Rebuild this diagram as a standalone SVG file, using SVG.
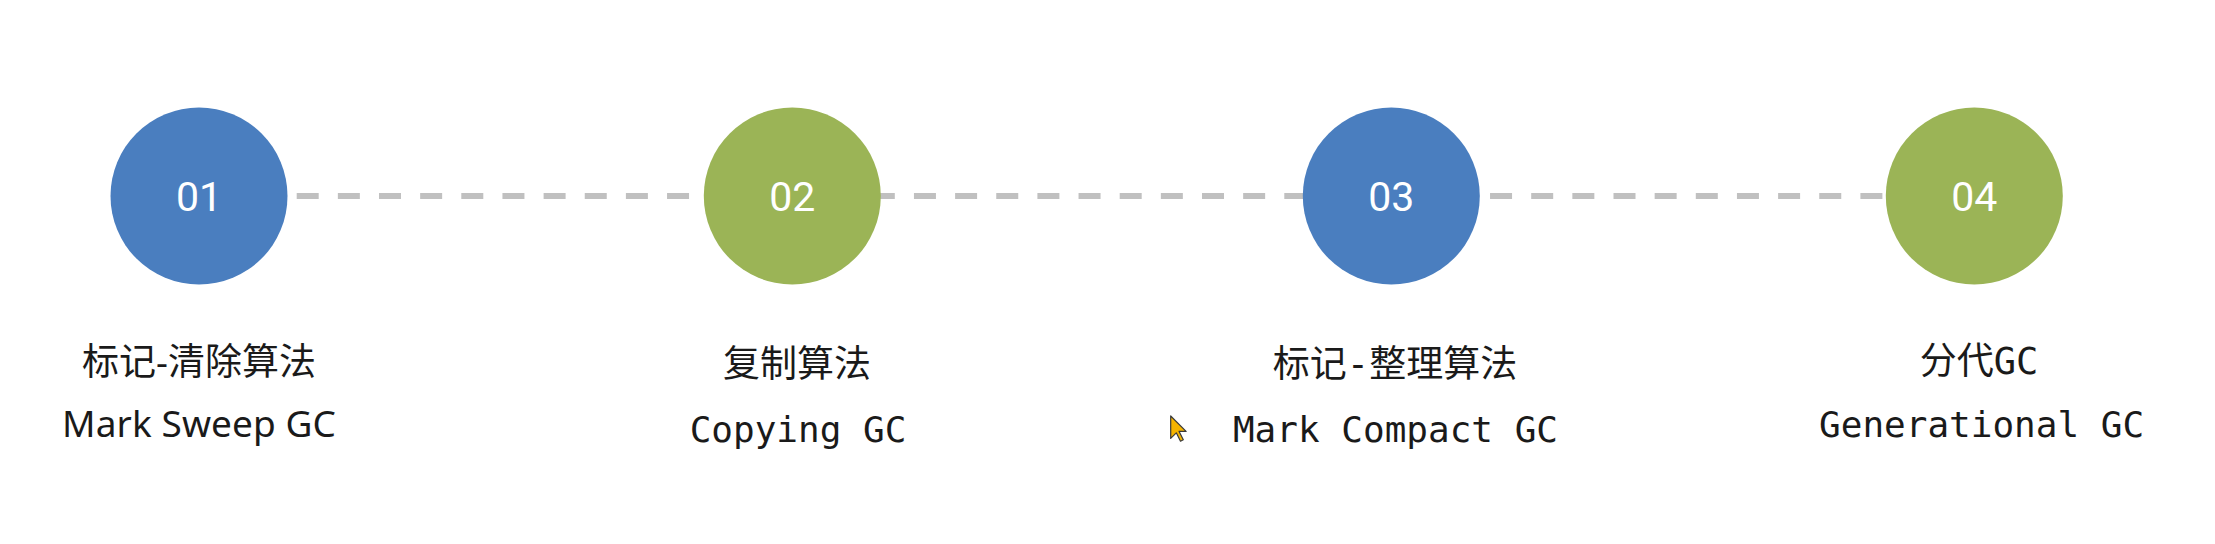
<svg xmlns="http://www.w3.org/2000/svg" width="2215" height="544" viewBox="0 0 2215 544">
  <style>
    .blue { fill: #4A7EBF; }
    .green { fill: #9BB456; }
    .num { font-family: Roboto, "Liberation Sans", sans-serif; font-size: 41px; fill: #FFFFFF; text-anchor: middle; }
    .cn { font-family: "Noto Sans", "Noto Sans CJK SC", sans-serif; font-size: 37px; fill: #1A1A1A; text-anchor: middle; }
    .cnm { font-family: "DejaVu Sans Mono", "Noto Sans CJK SC", monospace; font-size: 37px; fill: #1A1A1A; text-anchor: middle; }
    .en { font-family: "Noto Sans", "Liberation Sans", sans-serif; font-size: 37px; fill: #1A1A1A; text-anchor: middle; }
    .mono { font-family: "DejaVu Sans Mono", "Liberation Mono", monospace; font-size: 36px; fill: #1A1A1A; text-anchor: middle; }
  </style>
  <rect width="2215" height="544" fill="#FFFFFF"/>
  <g id="connectors">
    <line x1="296.7" y1="196" x2="1884" y2="196" stroke="#C0C0C0" stroke-width="6" stroke-dasharray="22 19.15"/>
  </g>
  <g id="node1">
    <circle class="blue" cx="199" cy="196" r="88.5"/>
    <text class="num" x="199" y="211">01</text>
    <text class="cn" x="199" y="375">标记-清除算法</text>
    <text class="en" x="199" y="437" textLength="274">Mark Sweep GC</text>
  </g>
  <g id="node2">
    <circle class="green" cx="792.3" cy="196" r="88.5"/>
    <text class="num" x="792.3" y="211">02</text>
    <text class="cn" x="797" y="377">复制算法</text>
    <text class="mono" x="798" y="442">Copying GC</text>
  </g>
  <g id="node3">
    <circle class="blue" cx="1391.3" cy="196" r="88.5"/>
    <text class="num" x="1391.3" y="211">03</text>
    <text class="cnm" x="1395" y="377">标记-整理算法</text>
    <text class="mono" x="1395.5" y="442">Mark Compact GC</text>
  </g>
  <g id="node4">
    <circle class="green" cx="1974.3" cy="196" r="88.5"/>
    <text class="num" x="1974.3" y="211">04</text>
    <text class="cnm" x="1979" y="374">分代GC</text>
    <text class="mono" x="1981.6" y="437">Generational GC</text>
  </g>
  <polygon points="1170.7,416 1170.7,438.4 1176.3,432.8 1180.5,441.2 1183.3,439.8 1179.1,431.4 1186.1,431.4" fill="#F5B400" stroke="#3A3A3A" stroke-width="1.2" stroke-linejoin="round"/>
</svg>
